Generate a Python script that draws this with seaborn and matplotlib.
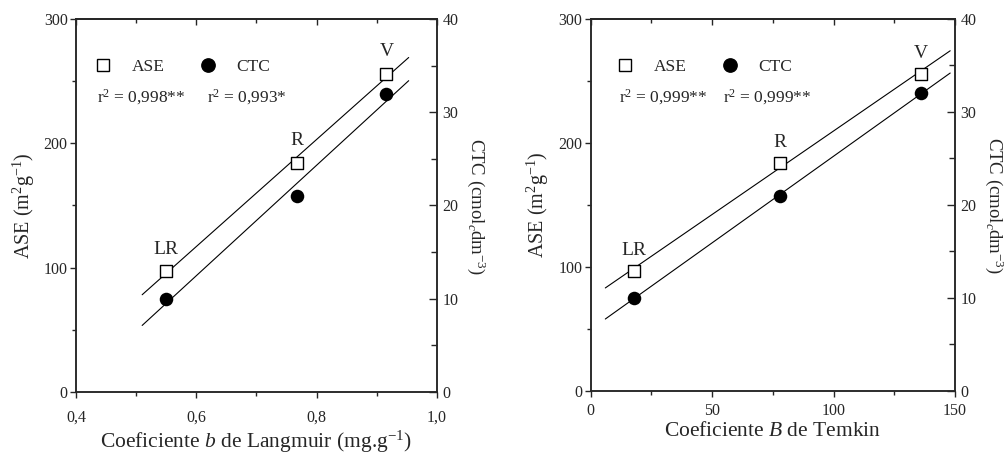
import numpy as np
import pandas as pd
import matplotlib
matplotlib.use("Agg")
import matplotlib.pyplot as plt
import seaborn as sns
from matplotlib.ticker import MultipleLocator, FuncFormatter
from matplotlib.lines import Line2D

# ---------------- data ----------------
soils = ["LR", "R", "V"]
langmuir_b = [0.549, 0.767, 0.916]
temkin_B = [17.8, 77.9, 135.9]
ase = [97, 184, 256]
ctc = [10, 21, 32]
r2_langmuir = ["0,998**", "0,993*"]
r2_temkin = ["0,999**", "0,999**"]
langmuir_fit_range = [0.51, 0.953]
temkin_fit_range = [6.0, 148.0]

sns.set_style("ticks")
plt.rcParams["font.family"] = ["Liberation Serif", "DejaVu Serif"]
plt.rcParams["mathtext.fontset"] = "custom"
plt.rcParams["mathtext.rm"] = "Liberation Serif"
plt.rcParams["mathtext.it"] = "Liberation Serif:italic"
plt.rcParams["mathtext.bf"] = "Liberation Serif:bold"
plt.rcParams["axes.linewidth"] = 1.1

fig = plt.figure(figsize=(10.05, 4.53), dpi=100)

comma = FuncFormatter(lambda v, p: f"{v:.1f}".replace(".", ","))
plain = FuncFormatter(lambda v, p: f"{v:g}")


def panel(rect, xvals, xlim, xmajor, xminor, xfmt, fit_range, xlabel, r2, leg_x, r2_x, lab_off,
          xpad, rlab_x):
    ax = fig.add_axes(rect)
    ax2 = ax.twinx()
    df = pd.DataFrame({"x": xvals, "ase": ase, "ctc": ctc, "soil": soils})

    # fitted lines
    xf = np.linspace(fit_range[0], fit_range[1], 2)
    pa = np.polyfit(df["x"], df["ase"], 1)
    pc = np.polyfit(df["x"], df["ctc"], 1)
    sns.lineplot(x=xf, y=np.polyval(pa, xf), ax=ax, color="black", lw=0.8, zorder=2)
    sns.lineplot(x=xf, y=np.polyval(pc, xf), ax=ax2, color="black", lw=0.8, zorder=2)

    sns.scatterplot(data=df, x="x", y="ase", ax=ax, marker="s", s=72,
                    facecolor="white", edgecolor="black", linewidth=1.0, zorder=3)
    sns.scatterplot(data=df, x="x", y="ctc", ax=ax2, marker="o", s=95,
                    color="black", edgecolor="black", linewidth=0, zorder=3)

    for xi, yi, s in zip(df["x"], df["ase"], df["soil"]):
        ax.annotate(s, (xi, yi), xytext=(0, lab_off), textcoords="offset points",
                    ha="center", va="center", fontsize=14)

    ax.set_xlim(*xlim)
    ax.set_ylim(0, 300)
    ax2.set_ylim(0, 40)
    ax.xaxis.set_major_locator(MultipleLocator(xmajor))
    ax.xaxis.set_minor_locator(MultipleLocator(xminor))
    ax.xaxis.set_major_formatter(xfmt)
    ax.yaxis.set_major_locator(MultipleLocator(100))
    ax.yaxis.set_minor_locator(MultipleLocator(50))
    ax2.yaxis.set_major_locator(MultipleLocator(10))
    ax2.yaxis.set_minor_locator(MultipleLocator(5))
    ax2.yaxis.set_major_formatter(plain)
    ax.yaxis.set_major_formatter(plain)

    ax.tick_params(axis="both", which="major", direction="out", length=4, width=1.0,
                   labelsize=11.5, pad=2)
    ax.tick_params(axis="both", which="minor", direction="out", length=3, width=1.0)
    ax.tick_params(axis="x", which="major", pad=xpad)
    ax2.tick_params(axis="y", which="major", direction="in", length=6, width=1.0,
                    labelsize=11.5, pad=4)
    ax2.tick_params(axis="y", which="minor", direction="in", length=4, width=1.0)

    top = ax.secondary_xaxis("top")
    top.xaxis.set_major_locator(MultipleLocator(xmajor))
    top.xaxis.set_minor_locator(MultipleLocator(xminor))
    top.tick_params(which="major", direction="in", length=4, width=1.0, labeltop=False)
    top.tick_params(which="minor", direction="in", length=3, width=1.0)

    for a in (ax, ax2):
        for sp in a.spines.values():
            sp.set_visible(True)
            sp.set_linewidth(1.1)

    ax.set_xlabel(xlabel, fontsize=15.5, labelpad=2)
    ax.set_ylabel("ASE (m$^2$g$^{-1}$)", fontsize=14.5, labelpad=5)
    ax2.set_ylabel("CTC (cmol$_c$dm$^{-3}$)", fontsize=13.5, rotation=270, va="bottom")
    ax2.yaxis.set_label_coords(rlab_x, 0.497)

    handles = [
        Line2D([], [], ls="none", marker="s", markersize=8.4, markerfacecolor="white",
               markeredgecolor="black", markeredgewidth=1.0, label="ASE"),
        Line2D([], [], ls="none", marker="o", markersize=9.6, markerfacecolor="black",
               markeredgecolor="black", label="CTC"),
    ]
    ax.legend(handles=handles, ncol=2, frameon=False, fontsize=12.5,
              loc="center left", bbox_to_anchor=(leg_x, 0.871), borderpad=0,
              borderaxespad=0, handlelength=1.0, handletextpad=1.15, columnspacing=2.0)

    ax.text(r2_x[0], 0.79, "r$^2$ = " + r2[0], transform=ax.transAxes,
            fontsize=12.5, ha="left", va="center")
    ax.text(r2_x[1], 0.79, "r$^2$ = " + r2[1], transform=ax.transAxes,
            fontsize=12.5, ha="left", va="center")
    return ax, ax2


panel([0.0756, 0.1347, 0.3592, 0.8234], langmuir_b, (0.4, 1.0), 0.2, 0.1, comma,
      langmuir_fit_range, "Coeficiente $\\it{b}$ de Langmuir (mg.g$^{-1}$)",
      r2_langmuir, 0.051, (0.059, 0.362), 16, 9, 1.078)
panel([0.5878, 0.1369, 0.3625, 0.8212], temkin_B, (0, 150), 50, 25, plain,
      temkin_fit_range, "Coeficiente $\\it{B}$ de Temkin",
      r2_temkin, 0.07, (0.078, 0.362), 14.5, 5, 1.076)

fig.savefig("out.png", dpi=100)
